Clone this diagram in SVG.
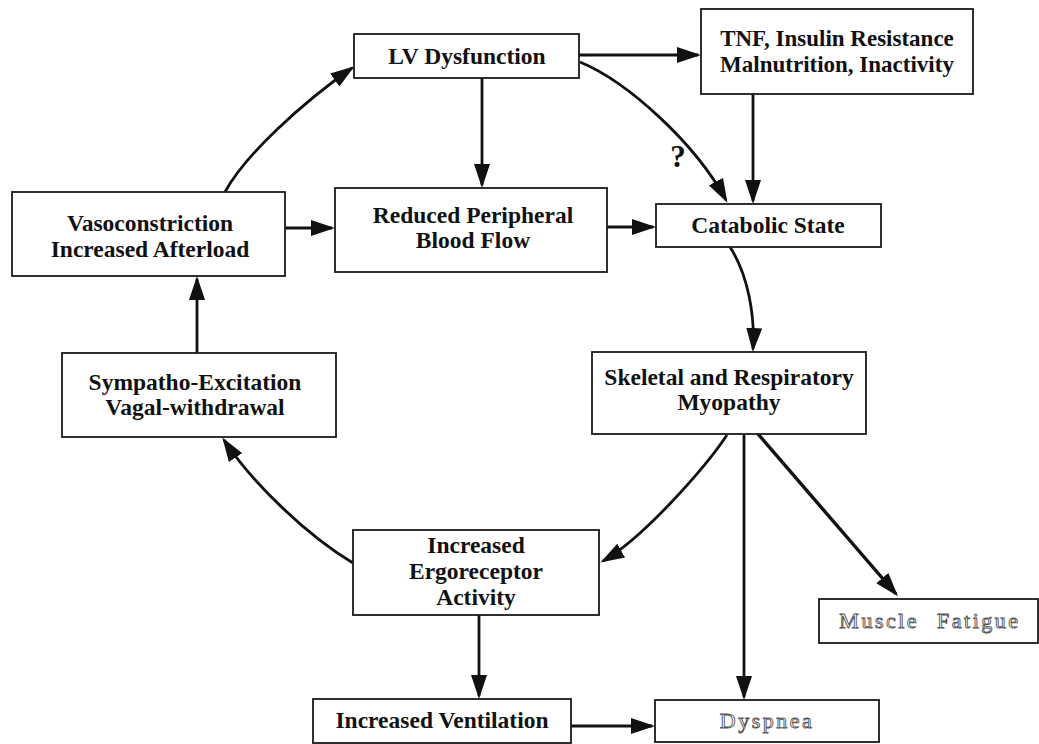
<svg xmlns="http://www.w3.org/2000/svg" width="1039" height="744" viewBox="0 0 1039 744">
<style>
.box{fill:#fff;stroke:#1a1a1a;stroke-width:1.8}
.t{font-family:"Liberation Serif","Times New Roman",serif;font-weight:bold;font-size:23.5px;fill:#111;text-anchor:middle}
.o{font-family:"Liberation Serif","Times New Roman",serif;font-weight:normal;font-size:22px;fill:#fff;stroke:#555;stroke-width:0.9;text-anchor:middle;letter-spacing:2.5px}
.c{fill:none;stroke:#111;stroke-width:2.8;marker-end:url(#ah)}
</style>
<defs>
<marker id="ah" viewBox="0 0 24 17" refX="21" refY="8.5" markerWidth="24" markerHeight="17" markerUnits="userSpaceOnUse" orient="auto">
<path d="M0,0.5 L24,8.5 L0,16.5 Z" fill="#111"/>
</marker>
</defs>
<rect width="1039" height="744" fill="#fff"/>
<g id="connectors">
<path class="c" d="M225,192 C245,155 302,103 352,68"/>
<path class="c" d="M579,55 L698,55"/>
<path class="c" d="M580,62 C628,82 695,143 726,200"/>
<path class="c" d="M753,94 L753,201"/>
<path class="c" d="M482,78 L482,185"/>
<path class="c" d="M285,228 L332,228"/>
<path class="c" d="M607,227 L653,227"/>
<path class="c" d="M730,247 C748,275 755,315 753,349"/>
<path class="c" d="M727,435 C707,465 645,537 603,561"/>
<path class="c" d="M744,434 L744,697"/>
<path class="c" style="stroke-width:3.4" d="M758,434 L896,594"/>
<path class="c" d="M479,615 L479,696"/>
<path class="c" d="M571,726 L652,726"/>
<path class="c" d="M353,563 C308,536 253,484 224,440"/>
<path class="c" d="M197,353 L197,279"/>
<text class="t" x="678" y="167" style="font-size:31px">?</text>
</g>
<g id="lv"><rect class="box" x="354" y="34" width="225" height="44"/><text class="t" x="467" y="64">LV Dysfunction</text></g>
<g id="tnf"><rect class="box" x="701" y="9" width="272" height="85"/><text class="t" x="837" y="46" style="font-size:23px">TNF, Insulin Resistance</text><text class="t" x="837" y="72" style="font-size:23px">Malnutrition, Inactivity</text></g>
<g id="vaso"><rect class="box" x="12" y="192" width="273" height="84"/><text class="t" x="150" y="231">Vasoconstriction</text><text class="t" x="150" y="257">Increased Afterload</text></g>
<g id="reduced"><rect class="box" x="335" y="188" width="272" height="84"/><text class="t" x="473" y="223">Reduced Peripheral</text><text class="t" x="473" y="248">Blood Flow</text></g>
<g id="catabolic"><rect class="box" x="656" y="204" width="225" height="43"/><text class="t" x="768" y="233">Catabolic State</text></g>
<g id="skeletal"><rect class="box" x="592" y="352" width="274" height="82"/><text class="t" x="729" y="385">Skeletal and Respiratory</text><text class="t" x="729" y="410">Myopathy</text></g>
<g id="sympatho"><rect class="box" x="62" y="353" width="274" height="84"/><text class="t" x="195" y="390">Sympatho-Excitation</text><text class="t" x="195" y="415">Vagal-withdrawal</text></g>
<g id="ergo"><rect class="box" x="353" y="530" width="246" height="85"/><text class="t" x="476" y="553">Increased</text><text class="t" x="476" y="579">Ergoreceptor</text><text class="t" x="476" y="605">Activity</text></g>
<g id="fatigue"><rect class="box" x="819" y="599" width="219" height="44"/><text class="o" x="930" y="628" style="word-spacing:10px">Muscle Fatigue</text></g>
<g id="ventilation"><rect class="box" x="313" y="699" width="258" height="44"/><text class="t" x="442" y="728">Increased Ventilation</text></g>
<g id="dyspnea"><rect class="box" x="655" y="700" width="224" height="42"/><text class="o" x="767" y="728">Dyspnea</text></g>
</svg>
